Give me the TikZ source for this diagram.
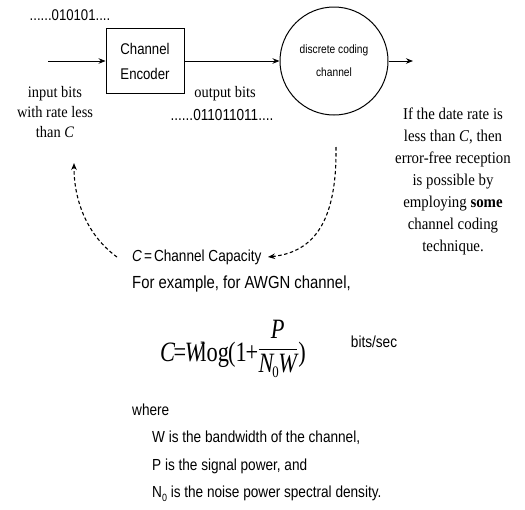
\documentclass[tikz,border=0pt]{standalone}
\usepackage{fontspec}
\setmainfont{Liberation Serif}[FakeStretch=0.9]
\newfontfamily\labelsans{Liberation Sans}[FakeStretch=0.85]
\newfontfamily\formulaserif{Liberation Serif}[FakeStretch=0.8]
\usetikzlibrary{arrows.meta}

\tikzset{
  sanslbl/.style={font=\labelsans\fontsize{16}{18}\selectfont, inner sep=0pt},
  seriflbl/.style={font=\fontsize{16}{20}\selectfont, align=center, inner sep=0pt},
  flow/.style={line width=0.9pt, -{Stealth[length=7pt,width=5.5pt]}},
  feedback/.style={line width=1.1pt, dash pattern=on 3.5pt off 2.5pt,
                   -{Stealth[length=7pt,width=5.5pt]}},
  blockbox/.style={draw, line width=0.9pt, minimum width=78pt, minimum height=65pt,
                   align=center, inner sep=0pt,
                   font=\labelsans\fontsize{15.5}{25}\selectfont},
  chanball/.style={draw, circle, line width=1pt, minimum size=108pt, align=center,
                   inner sep=0pt, font=\labelsans\fontsize{12}{23}\selectfont}
}

\begin{document}
\begin{tikzpicture}[x=1pt, y=-1pt]
\useasboundingbox (0,0) rectangle (525,509);

% encoder and channel blocks
\node[blockbox] (enc) at (145,61) {Channel\\Encoder};
\node[chanball] (dcc) at (334,61) {discrete coding\\channel};

% main signal path
\coordinate (src) at (48,61);
\coordinate (sink) at (413,61);
\draw[flow] (src) -- (enc.west);
\draw[flow] (enc.east) -- (dcc.west);
\draw[flow] (dcc.east) -- (sink);

% bit streams and their labels
\node[sanslbl, font=\labelsans\fontsize{15.5}{18}\selectfont] (seqin) at (70,15) {......010101....};
\node[seriflbl] (inbits) at (55,112) {input bits\\with rate less\\than \textit{C}};
\node[seriflbl] (outbits) at (225,94) {output bits};
\node[sanslbl] (seqout) at (222,115) {......011011011....};

% remark on the right
\node[seriflbl, font=\fontsize{16.5}{22}\selectfont] (remark) at (453,181)
  {If the date rate is\\less than \textit{C}, then\\error-free reception\\is possible by\\
   employing \textbf{some}\\channel coding\\technique.};

% capacity statement
\node[sanslbl, font=\labelsans\fontsize{16}{18}\selectfont, anchor=west] (cap) at (132,257)
  {\textit{C}\kern2pt=\kern2pt Channel Capacity};
\node[sanslbl, font=\labelsans\fontsize{17.5}{18}\selectfont, anchor=west] (example) at (132,284)
  {For example, for AWGN channel,};

% Shannon capacity formula
\node[inner sep=0pt, anchor=base west, font=\formulaserif\fontsize{28}{28}\selectfont] (formula) at (160,361)
  {\itshape C\kern-1.5pt\upshape=\kern-1.5pt\itshape W\kern-3pt\upshape log\kern-1pt(1\kern-1pt+\kern-1pt%
   \raisebox{6pt}{$\displaystyle\frac{\hbox{\itshape P}}
   {\hbox{\itshape N\kern-1pt\raisebox{-5pt}{\upshape\fontsize{16}{16}\selectfont 0}\kern-0.5pt W}}$})};
\node[sanslbl] (units) at (374,342) {bits/sec};

% symbol definitions
\node[sanslbl, anchor=west] (where) at (132,410) {where};
\node[sanslbl, anchor=west] (defw) at (152,438) {W is the bandwidth of the channel,};
\node[sanslbl, anchor=west] (defp) at (152,466) {P is the signal power, and};
\node[sanslbl, anchor=west] (defn) at (152,494)
  {N\raisebox{-4pt}{\fontsize{10.5}{10.5}\selectfont 0} is the noise power spectral density.};

% feedback of the capacity to the two ends of the channel
\coordinate (capl) at (117,257);
\coordinate (inc) at (74,163);
\coordinate (outc) at (336,147);
\coordinate (capr) at (268,257);
\draw[feedback] (capl) .. controls (88,236) and (74,202) .. (inc);
\draw[feedback] (outc) .. controls (337,220) and (315,252) .. (capr);
\end{tikzpicture}
\end{document}
